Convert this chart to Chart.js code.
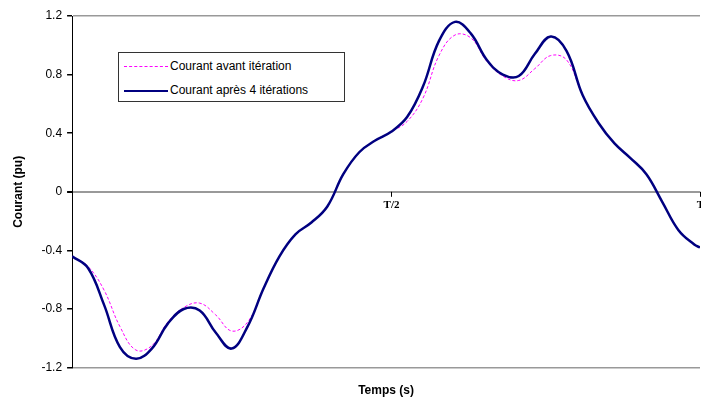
<!DOCTYPE html>
<html>
<head>
<meta charset="utf-8">
<script src="https://cdn.jsdelivr.net/npm/chart.js@4"></script>
<style>
  body { margin: 0; background: #fff; }
  #wrap { position: relative; width: 701px; height: 401px; }
  #legend {
    position: absolute; left: 118px; top: 52px; width: 225px; height: 48px;
    border: 1px solid #333; background: #fff;
    font: 12px "Liberation Sans", Arial, sans-serif; color: #000;
  }
  #legend .row { position: absolute; left: 5px; height: 14px; line-height: 14px; white-space: nowrap; }
  #legend .sample { display: inline-block; width: 44px; vertical-align: middle; margin-right: 2px; }
</style>
</head>
<body>
<div id="wrap">
  <canvas id="courantChart" width="701" height="401"></canvas>
  <div id="legend"></div>
</div>
<script>
// temps en fraction de la période T
const temps = [0, 0.025, 0.05, 0.075, 0.1, 0.125, 0.15, 0.175, 0.2, 0.225,
  0.25, 0.275, 0.3, 0.325, 0.35, 0.375, 0.4, 0.425, 0.45, 0.475,
  0.5, 0.525, 0.55, 0.575, 0.6, 0.625, 0.65, 0.675, 0.7, 0.725,
  0.75, 0.775, 0.8, 0.825, 0.85, 0.875, 0.9, 0.925, 0.95, 0.975, 0.984]

const courantAvant = [-0.44, -0.51, -0.67, -0.92, -1.08, -1.05, -0.89, -0.79, -0.76, -0.84,
  -0.95, -0.89, -0.66, -0.44, -0.29, -0.21, -0.10, 0.12, 0.27, 0.35,
  0.41, 0.48, 0.64, 0.93, 1.07, 1.05, 0.89, 0.79, 0.76, 0.84,
  0.93, 0.90, 0.66, 0.47, 0.33, 0.23, 0.12, -0.07, -0.26, -0.36, -0.38]

const courantApres = [-0.44, -0.52, -0.77, -1.06, -1.14, -1.07, -0.90, -0.80, -0.81, -0.96,
  -1.07, -0.92, -0.66, -0.44, -0.29, -0.21, -0.10, 0.12, 0.27, 0.35,
  0.41, 0.51, 0.72, 1.03, 1.16, 1.08, 0.90, 0.80, 0.79, 0.94,
  1.06, 0.96, 0.66, 0.47, 0.33, 0.23, 0.12, -0.07, -0.26, -0.36, -0.38]

const seriesLabels = ['Courant avant itération', 'Courant après 4 itérations']
const tempsTicks = [0.5, 0.984]
const tempsTickLabels = ['T/2', 'T']

const toPoints = (ys) => temps.map((t, i) => ({ x: t, y: ys[i] }))

// axe des temps dessiné sur la ligne zéro
const zeroAxisLabels = {
  id: 'zeroAxisLabels',
  afterDraw(chart) {
    const ctx = chart.ctx
    const x = chart.scales.x
    const y0 = chart.scales.y.getPixelForValue(0)
    ctx.save()
    ctx.strokeStyle = '#000'
    ctx.lineWidth = 1
    ctx.fillStyle = '#000'
    ctx.font = 'bold 11px "Liberation Serif", "Times New Roman", serif'
    ctx.textAlign = 'center'
    ctx.textBaseline = 'top'
    for (let i = 0; i < tempsTicks.length; i++) {
      const px = Math.round(x.getPixelForValue(tempsTicks[i])) + 0.5
      ctx.beginPath()
      ctx.moveTo(px, y0)
      ctx.lineTo(px, y0 + 5)
      ctx.stroke()
      ctx.fillText(tempsTickLabels[i], px, y0 + 8)
    }
    ctx.restore()
  }
}

const lineColors = ['#ff00ff', '#000080']

const data = {
  datasets: [
    {
      label: seriesLabels[0],
      data: toPoints(courantAvant),
      borderColor: lineColors[0],
      borderWidth: 1,
      borderDash: [3, 2],
      pointRadius: 0,
      tension: 0.4,
      order: 1
    },
    {
      label: seriesLabels[1],
      data: toPoints(courantApres),
      borderColor: lineColors[1],
      borderWidth: 2.5,
      pointRadius: 0,
      tension: 0.4,
      order: 0
    }
  ]
}

const gridColor = (c) => {
  const v = Math.round(c.tick.value * 10)
  return (v === 0 || v === 12 || v === -12) ? '#999' : 'rgba(0,0,0,0)'
}

new Chart(document.getElementById('courantChart').getContext('2d'), {
  type: 'line',
  data: data,
  plugins: [zeroAxisLabels],
  options: {
    responsive: false,
    animation: false,
    layout: { padding: { left: 0, top: 16, right: 1, bottom: 0 } },
    plugins: { legend: { display: false }, tooltip: { enabled: false } },
    font: { family: '"Liberation Sans", Arial, sans-serif' },
    scales: {
      x: {
        type: 'linear',
        min: 0,
        max: 0.984,
        grid: { display: false, drawTicks: false },
        border: { display: false },
        ticks: { display: false },
        title: {
          display: true,
          text: 'Temps (s)',
          color: '#000',
          font: { size: 12, weight: 'bold', family: '"Liberation Sans", Arial, sans-serif' },
          padding: { top: 16, bottom: 3 }
        }
      },
      y: {
        min: -1.2,
        max: 1.2,
        ticks: {
          stepSize: 0.4,
          color: '#000',
          padding: 5,
          font: { size: 12, family: '"Liberation Sans", Arial, sans-serif' },
          callback: (v) => String(Number(v.toFixed(1)))
        },
        grid: {
          color: gridColor,
          lineWidth: (c) => (Math.round(c.tick.value * 10) === 0 ? 2 : 1.5),
          tickColor: '#000',
          tickLength: 5
        },
        border: { display: true, color: '#000', width: 1 },
        title: {
          display: true,
          text: 'Courant (pu)',
          color: '#000',
          font: { size: 12, weight: 'bold', family: '"Liberation Sans", Arial, sans-serif' },
          padding: { top: 11, bottom: 11 }
        }
      }
    }
  }
})

// légende encadrée, construite à partir des séries
const legend = document.getElementById('legend')
seriesLabels.forEach((label, i) => {
  const row = document.createElement('div')
  row.className = 'row'
  row.style.top = (i === 0 ? 6 : 30) + 'px'
  const sample = document.createElement('span')
  sample.className = 'sample'
  sample.style.borderTop = i === 0 ? '1px dashed ' + lineColors[0] : '2px solid ' + lineColors[1]
  row.appendChild(sample)
  row.appendChild(document.createTextNode(label))
  legend.appendChild(row)
})
</script>
</body>
</html>
